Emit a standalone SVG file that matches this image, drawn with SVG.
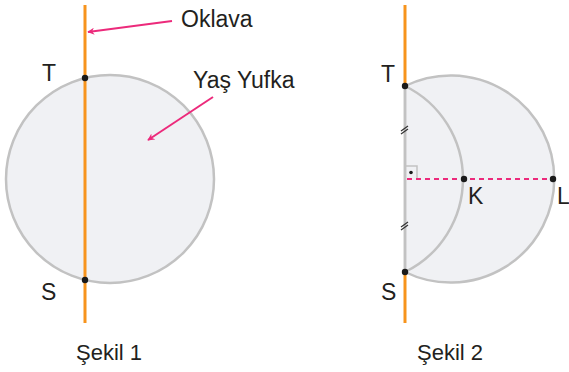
<svg xmlns="http://www.w3.org/2000/svg" width="569" height="372" viewBox="0 0 569 372">
<defs>
<style>
.shape{fill:#f0f1f4;stroke:#c2c2c2;stroke-width:2.5}
.arc{fill:none;stroke:#c2c2c2;stroke-width:2.5}
.stick{stroke:#f7941d;stroke-width:3;fill:none}
.ptr{stroke:#ec2a7b;stroke-width:2;fill:none}
.dash{stroke:#ec2a7b;stroke-width:2;stroke-dasharray:5 4;fill:none}
.tick{stroke:#333;stroke-width:1.2}
.dot{fill:#1a1a1a}
text{font-family:"Liberation Sans",Arial,sans-serif;font-size:23px;fill:#231f20}
.cap{font-size:22px}
</style>
<marker id="ah" viewBox="0 0 10 10" refX="9" refY="5" markerWidth="7" markerHeight="7" markerUnits="userSpaceOnUse" orient="auto">
<path d="M0,0 L10,5 L0,10 L3,5 Z" fill="#ec2a7b"/>
</marker>
</defs>
<g id="figure1">
<g id="yufka1"><circle class="shape" cx="110" cy="179" r="104"/></g>
<g id="oklava1"><line class="stick" x1="85" y1="5" x2="85" y2="323"/></g>
<text x="181" y="27">Oklava</text>
<text x="193" y="88">Yaş Yufka</text>
<text class="cap" x="109" y="360" text-anchor="middle">Şekil 1</text>
</g>
<g id="figure2">
<g id="yufka2">
<path class="shape" d="M405,86 A103.6,103.6 0 1 1 405,272 Z"/>
<path class="arc" d="M405,86 A103.6,103.6 0 0 1 405,272"/>
<line class="arc" x1="405" y1="86" x2="405" y2="272"/>
</g>
<g id="oklava2">
<line class="stick" x1="405" y1="5" x2="405" y2="86"/>
<line class="stick" x1="405" y1="272" x2="405" y2="323"/>
</g>
<g id="marks">
<line class="tick" x1="401" y1="131" x2="408" y2="126"/>
<line class="tick" x1="401" y1="134" x2="408" y2="129"/>
<line class="tick" x1="401" y1="227" x2="408" y2="222"/>
<line class="tick" x1="401" y1="230" x2="408" y2="225"/>
<path d="M405,166 H417 V179" fill="none" stroke="#c2c2c2" stroke-width="1.5"/>
<circle class="dot" cx="411" cy="172.5" r="1.8"/>
</g>
<text class="cap" x="450" y="360" text-anchor="middle">Şekil 2</text>
</g>
<g id="connectors">
<line class="ptr" x1="172" y1="21" x2="88" y2="32" marker-end="url(#ah)"/>
<line class="ptr" x1="213" y1="97" x2="148" y2="140" marker-end="url(#ah)"/>
<line class="dash" x1="407" y1="179" x2="553" y2="179"/>
</g>
<g id="T1"><circle class="dot" cx="85" cy="78" r="3.2"/><text x="42" y="81">T</text></g>
<g id="S1"><circle class="dot" cx="85" cy="280" r="3.2"/><text x="41" y="300">S</text></g>
<g id="T2"><circle class="dot" cx="405" cy="86" r="3.2"/><text x="381" y="82">T</text></g>
<g id="S2"><circle class="dot" cx="405" cy="272" r="3.2"/><text x="381" y="300">S</text></g>
<g id="K"><circle class="dot" cx="464" cy="179" r="3.2"/><text x="468" y="204">K</text></g>
<g id="L"><circle class="dot" cx="553" cy="179" r="3.2"/><text x="557" y="204">L</text></g>
</svg>
